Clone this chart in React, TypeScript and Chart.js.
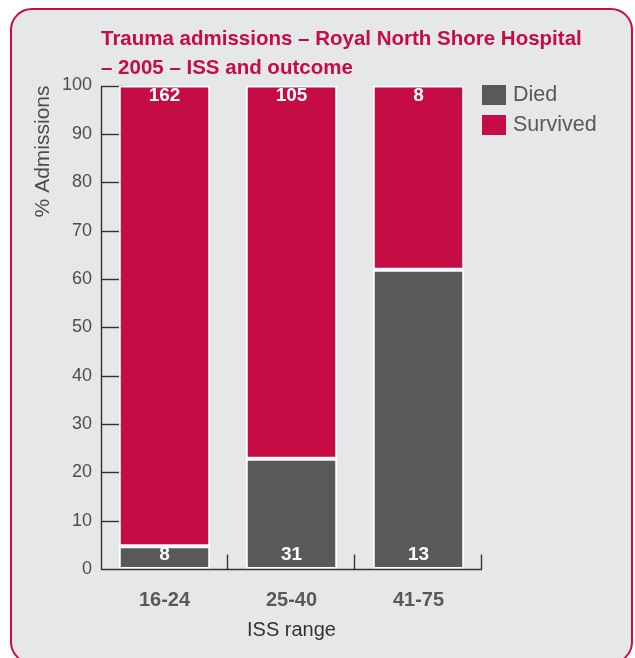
import React, { useEffect, useLayoutEffect, useRef } from 'react';
import { Chart, registerables } from 'chart.js';

Chart.register(...registerables);

const categories = ['16-24', '25-40', '41-75'];
const seriesNames = ['Died', 'Survived'];
const diedPct = [4.7, 22.8, 61.9];
const survivedPct = [95.3, 77.2, 38.1];
const diedCounts = [8, 31, 13];
const survivedCounts = [162, 105, 8];
const titleLines = ['Trauma admissions – Royal North Shore Hospital', '– 2005 – ISS and outcome'];
const yAxisTitle = '% Admissions';
const xAxisTitle = 'ISS range';

const CRIMSON = '#c60c45';
const DARK = '#58595b';
const AXIS = '#333333';
const FONT = "'Liberation Sans', Arial, Helvetica, sans-serif";

const decorPlugin = {
  id: 'decor',
  beforeDatasetsDraw(chart: any) {
    const { ctx, chartArea: a, scales } = chart;
    const y = scales.y;
    ctx.save();
    ctx.strokeStyle = AXIS;
    ctx.lineWidth = 1.4;
    y.ticks.forEach((t: any) => {
      if (t.value === 0) return;
      const py = Math.round(y.getPixelForValue(t.value)) + 0.5;
      ctx.beginPath();
      ctx.moveTo(a.left, py);
      ctx.lineTo(a.left + 22, py);
      ctx.stroke();
    });
    ctx.restore();
  },
  afterDatasetsDraw(chart: any) {
    const { ctx, chartArea: a, scales } = chart;
    const x = scales.x;
    const y = scales.y;
    ctx.save();
    ctx.strokeStyle = AXIS;
    ctx.lineWidth = 1.4;
    const zeroY = Math.round(y.getPixelForValue(0)) + 0.5;
    const topY = Math.round(y.getPixelForValue(100)) + 0.5;
    ctx.beginPath();
    ctx.moveTo(a.left + 0.5, topY);
    ctx.lineTo(a.left + 0.5, zeroY);
    ctx.lineTo(a.right, zeroY);
    ctx.stroke();
    for (let i = 0; i < categories.length; i++) {
      const px = Math.round(x.getPixelForValue(i + 0.5)) - 0.5;
      ctx.beginPath();
      ctx.moveTo(px, zeroY);
      ctx.lineTo(px, zeroY - 15);
      ctx.stroke();
    }
    ctx.fillStyle = '#ffffff';
    ctx.font = `bold 19px ${FONT}`;
    ctx.textAlign = 'center';
    ctx.textBaseline = 'middle';
    const diedMeta = chart.getDatasetMeta(0);
    const survMeta = chart.getDatasetMeta(1);
    diedMeta.data.forEach((bar: any, i: number) => {
      ctx.fillText(String(diedCounts[i]), bar.x, bar.base - 14);
    });
    survMeta.data.forEach((bar: any, i: number) => {
      ctx.fillText(String(survivedCounts[i]), bar.x, bar.y + 10);
    });
    ctx.restore();
  },
  afterDraw(chart: any) {
    const { ctx, chartArea: a } = chart;
    ctx.save();
    ctx.fillStyle = CRIMSON;
    ctx.font = `bold 20.5px ${FONT}`;
    ctx.textAlign = 'left';
    ctx.textBaseline = 'middle';
    titleLines.forEach((line, i) => {
      ctx.fillText(line, a.left, 29 + i * 29);
    });
    chart.data.datasets.forEach((ds: any, i: number) => {
      const top = a.top - 0.5 + i * 30;
      ctx.fillStyle = ds.backgroundColor;
      ctx.fillRect(a.right, top, 24, 20);
      ctx.fillStyle = DARK;
      ctx.font = `21.5px ${FONT}`;
      ctx.textAlign = 'left';
      ctx.textBaseline = 'middle';
      ctx.fillText(ds.label, a.right + 31, top + 10.5);
    });
    ctx.restore();
  },
};

export default function App() {
  const ref = useRef<HTMLCanvasElement | null>(null);

  useLayoutEffect(() => {
    const prev = document.body.style.margin;
    document.body.style.margin = '0';
    return () => {
      document.body.style.margin = prev;
    };
  }, []);

  useEffect(() => {
    if (!ref.current) return;
    const common = {
      borderColor: '#ffffff',
      borderWidth: 2,
      borderSkipped: false,
      barPercentage: 0.72,
      categoryPercentage: 1,
    };
    const chart = new Chart(ref.current, {
      type: 'bar',
      data: {
        labels: categories,
        datasets: [
          { label: seriesNames[0], data: diedPct, backgroundColor: DARK, ...common },
          { label: seriesNames[1], data: survivedPct, backgroundColor: CRIMSON, ...common },
        ],
      },
      options: {
        responsive: false,
        animation: false,
        layout: { padding: { top: 75.5, right: 149, left: 0, bottom: 0 } },
        plugins: {
          legend: { display: false },
          title: { display: false },
          tooltip: { enabled: false },
        },
        scales: {
          x: {
            stacked: true,
            grid: { display: false, drawTicks: false, offset: true },
            border: { display: false },
            ticks: {
              padding: 19,
              color: DARK,
              font: { family: FONT, size: 20, weight: 'bold' },
            },
            title: {
              display: true,
              text: xAxisTitle,
              color: AXIS,
              font: { family: FONT, size: 20 },
              padding: { top: 0, bottom: 13.5 },
            },
            afterFit: (axis: any) => {
              axis.height = 87;
            },
          },
          y: {
            stacked: true,
            min: 0,
            max: 100,
            grid: { display: false, drawTicks: false },
            border: { display: false },
            ticks: {
              stepSize: 10,
              padding: 9,
              color: '#4d4d4f',
              font: { family: FONT, size: 18 },
            },
            title: {
              display: true,
              text: yAxisTitle,
              align: 'end',
              color: '#4d4d4f',
              font: { family: FONT, size: 21 },
              padding: { top: 19, bottom: 0 },
            },
            afterFit: (axis: any) => {
              axis.width = 89;
            },
          },
        },
      },
      plugins: [decorPlugin],
    } as any);
    return () => chart.destroy();
  }, []);

  return (
    <div
      style={{
        width: 635,
        height: 658,
        paddingTop: 8,
        paddingLeft: 10,
        boxSizing: 'border-box',
        overflow: 'hidden',
      }}
    >
      <div
        style={{
          position: 'relative',
          width: 623,
          height: 656,
          border: `2px solid ${CRIMSON}`,
          borderRadius: 22,
          background: '#e6e7e8',
          boxSizing: 'border-box',
          overflow: 'hidden',
        }}
      >
        <canvas ref={ref} width={619} height={646} style={{ display: 'block' }} />
      </div>
    </div>
  );
}
